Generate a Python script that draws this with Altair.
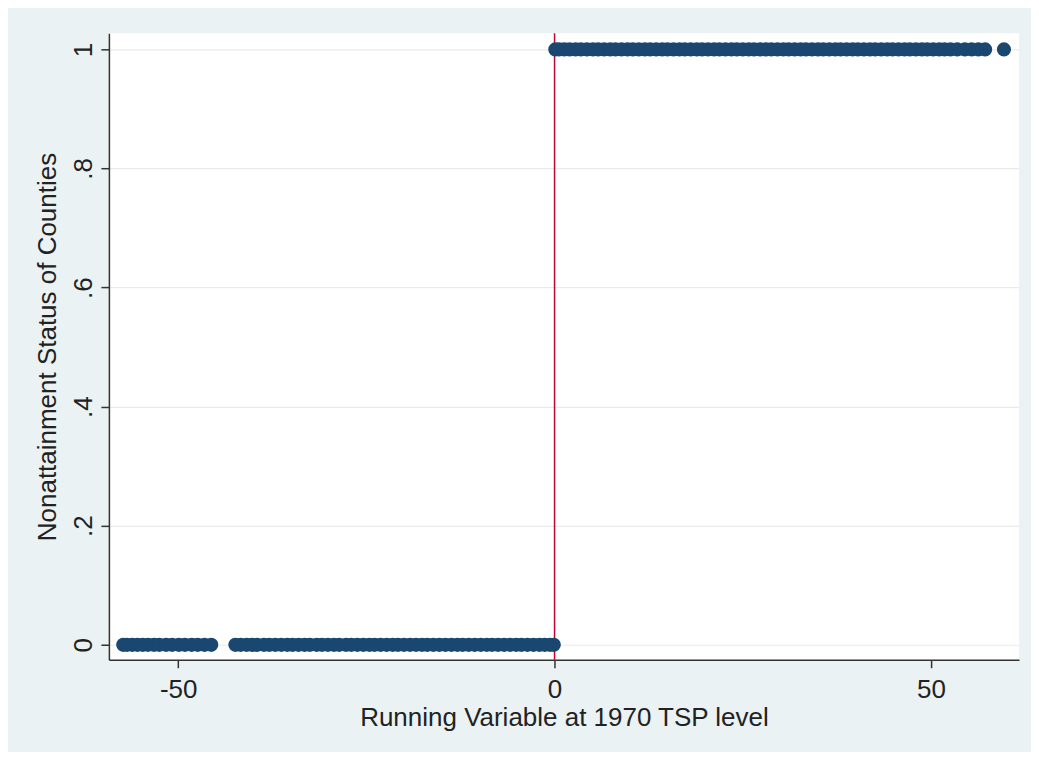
import altair as alt
import pandas as pd

# x values (running variable) for counties in attainment (y = 0)
x_below = [-57.3, -56.8, -56.1, -55.4, -54.7, -54.0, -53.2, -52.5, -51.6, -50.8,
           -49.9, -49.1, -48.2, -47.4, -46.5, -45.6,
           -42.4, -41.7, -40.9, -40.2, -39.5, -38.6, -37.9, -37.1, -36.3, -35.5,
           -34.8, -34.0, -33.2, -32.5, -31.6, -30.9, -30.1, -29.3, -28.6, -27.7,
           -27.0, -26.2, -25.4, -24.6, -23.9, -23.1, -22.3, -21.5, -20.8, -20.0,
           -19.2, -18.4, -17.6, -16.9, -16.1, -15.3, -14.5, -13.7, -12.9, -12.2,
           -11.4, -10.6, -9.8, -9.0, -8.3, -7.5, -6.7, -5.9, -5.1, -4.4, -3.6,
           -2.8, -2.0, -1.3, -0.6, -0.1]
# x values for counties in nonattainment (y = 1)
x_above = [0.1, 0.6, 1.3, 2.0, 2.8, 3.5, 4.3, 5.1, 5.8, 6.6, 7.4, 8.1, 8.9, 9.7,
           10.4, 11.2, 12.0, 12.7, 13.5, 14.3, 15.0, 15.8, 16.6, 17.3, 18.1,
           18.9, 19.6, 20.4, 21.2, 21.9, 22.7, 23.5, 24.2, 25.0, 25.8, 26.5,
           27.3, 28.1, 28.8, 29.6, 30.4, 31.1, 31.9, 32.7, 33.4, 34.2, 35.0,
           35.7, 36.5, 37.3, 38.0, 38.8, 39.6, 40.3, 41.1, 41.9, 42.6, 43.4,
           44.2, 44.9, 45.7, 46.5, 47.2, 48.0, 48.8, 49.5, 50.3, 51.1, 51.8,
           52.6, 53.5, 54.5, 55.4, 56.3, 57.2, 59.7]

status_below = [0] * len(x_below)
status_above = [1] * len(x_above)

df = pd.DataFrame({
    "x": x_below + x_above,
    "y": status_below + status_above,
})

y_ticks = [0, 0.2, 0.4, 0.6, 0.8, 1]
x_ticks = [-50, 0, 50]
cutoff = [0]

xscale = alt.Scale(domain=[-59.2, 61.7], nice=False, zero=False)
yscale = alt.Scale(domain=[-0.025, 1.027], nice=False, zero=False)

font = "Liberation Sans"
fs = 26

points = alt.Chart(df).mark_circle(size=200, opacity=1, color="#1a476f").encode(
    x=alt.X("x:Q", scale=xscale,
            axis=alt.Axis(values=x_ticks, title="Running Variable at 1970 TSP level",
                          labelExpr="toString(datum.value)",
                          grid=False, tickSize=8, labelFontSize=fs, titleFontSize=fs,
                          labelPadding=9, titlePadding=2, labelColor="#222",
                          titleColor="#222", titleFontWeight="normal",
                          domainColor="#333", tickColor="#333",
                          domainWidth=1.5, tickWidth=1.5, labelFont=font, titleFont=font)),
    y=alt.Y("y:Q", scale=yscale,
            axis=alt.Axis(values=y_ticks, title="Nonattainment Status of Counties",
                          labelExpr="datum.value == 0 ? '0' : datum.value == 1 ? '1' : replace(format(datum.value, '.1f'), '0.', '.')",
                          grid=True, gridColor="#EAEAEA", gridWidth=1.2,
                          tickSize=8, labelFontSize=fs, titleFontSize=fs,
                          labelAngle=270, labelAlign="center", labelBaseline="bottom",
                          labelPadding=4, titlePadding=10, labelColor="#222",
                          titleColor="#222", titleFontWeight="normal",
                          domainColor="#333", tickColor="#333",
                          domainWidth=1.5, tickWidth=1.5, labelFont=font, titleFont=font)),
)

rule = alt.Chart(pd.DataFrame({"c": cutoff})).mark_rule(color="#C10534", strokeWidth=1.5).encode(
    x=alt.X("c:Q", scale=xscale)
)

chart = alt.layer(rule, points).properties(
    width=911, height=627,
    autosize=alt.AutoSizeParams(type="none"),
    padding={"left": 101, "top": 25, "right": 12, "bottom": 92},
    background="#EAF2F3",
).configure_view(fill="white", stroke=None)

chart.save("out.html", embed_options={"renderer": "svg", "actions": False})
